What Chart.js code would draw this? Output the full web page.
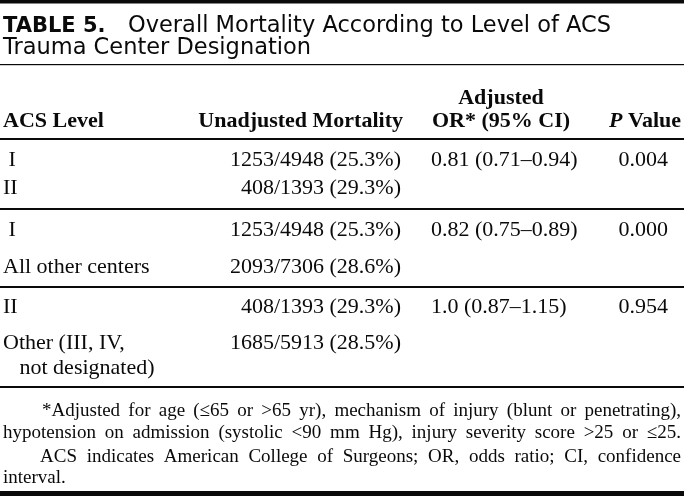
<!DOCTYPE html>
<html>
<head>
<meta charset="utf-8">
<script src="https://cdn.jsdelivr.net/npm/chart.js@4.4.1/dist/chart.umd.min.js"></script>
<style>
  html, body { margin: 0; padding: 0; background: #fff; }
  #wrap { width: 684px; height: 496px; position: relative; }
</style>
</head>
<body>
<div id="wrap"><canvas id="c" width="684" height="496"></canvas></div>
<script>
// ---- Data ----
const titleLabel = "TABLE 5.";
const titleText = ["Overall Mortality According to Level of ACS", "Trauma Center Designation"];
const headers = ["ACS Level", "Unadjusted Mortality", ["Adjusted", "OR* (95% CI)"], "P Value"];
const acsLevels = [" I", "II", " I", "All other centers", "II", ["Other (III, IV,", "   not designated)"]];
const unadjustedMortality = ["1253/4948 (25.3%)", "408/1393 (29.3%)", "1253/4948 (25.3%)", "2093/7306 (28.6%)", "408/1393 (29.3%)", "1685/5913 (28.5%)"];
const adjustedOR = ["0.81 (0.71\u20130.94)", "", "0.82 (0.75\u20130.89)", "", "1.0 (0.87\u20131.15)", ""];
const pValues = ["0.004", "", "0.000", "", "0.954", ""];
const footnotes = [
  "*Adjusted for age (\u226465 or >65 yr), mechanism of injury (blunt or penetrating),",
  "hypotension on admission (systolic <90 mm Hg), injury severity score >25 or \u226425.",
  "ACS indicates American College of Surgeons; OR, odds ratio; CI, confidence",
  "interval."
];

// ---- Layout (positions in scale units) ----
const L = {
  rowBase: [166, 194, 236, 273, 313, 349],
  rowLine2: 374,
  rules: [[0, 3.5], [64, 1.2], [138, 2], [208, 2], [286, 2], [386, 2], [491, 5]],
  titleBase: [32, 54],
  titleTextX: 128,
  hdrBase: [104, 127],
  colLeft: 3, colUnadjRight: 401, colORLeft: 431, colORCenter: 501, colPRight: 668, colPHdrRight: 681,
  footBase: [416, 438, 462, 483],
  footIndent: [42, 3, 40, 3],
  footJustify: [true, true, true, false],
  footRight: 681
};
const SERIF = '"Liberation Serif", "Times New Roman", serif';
const SANS = '"DejaVu Sans", sans-serif';

const tablePlugin = {
  id: 'tablePlugin',
  afterDraw(chart) {
    const ctx = chart.ctx;
    const xs = chart.scales.x, ys = chart.scales.y;
    const X = v => xs.getPixelForValue(v);
    const Y = v => ys.getPixelForValue(v);
    ctx.save();
    ctx.fillStyle = '#0a0a0a';
    ctx.textBaseline = 'alphabetic';
    // rules
    L.rules.forEach(([y, h]) => { ctx.fillRect(X(0), Y(y), X(684) - X(0), h); });
    // title
    ctx.textAlign = 'left';
    ctx.font = 'bold 21px ' + SANS;
    ctx.fillText(titleLabel, X(L.colLeft), Y(L.titleBase[0]));
    ctx.font = '22.5px ' + SANS;
    ctx.fillText(titleText[0], X(L.titleTextX), Y(L.titleBase[0]));
    ctx.fillText(titleText[1], X(L.colLeft), Y(L.titleBase[1]));
    // headers
    ctx.font = 'bold 22px ' + SERIF;
    ctx.textAlign = 'left';
    ctx.fillText(headers[0], X(L.colLeft), Y(L.hdrBase[1]));
    ctx.textAlign = 'right';
    ctx.fillText(headers[1], X(L.colUnadjRight + 2), Y(L.hdrBase[1]));
    ctx.textAlign = 'center';
    ctx.fillText(headers[2][0], X(L.colORCenter), Y(L.hdrBase[0]));
    ctx.fillText(headers[2][1], X(L.colORCenter), Y(L.hdrBase[1]));
    // P Value header: italic P
    ctx.textAlign = 'right';
    const rest = " Value";
    ctx.fillText(rest, X(L.colPHdrRight), Y(L.hdrBase[1]));
    const rw = ctx.measureText(rest).width;
    ctx.font = 'italic bold 22px ' + SERIF;
    ctx.fillText(headers[3].split(' ')[0], X(L.colPHdrRight) - rw, Y(L.hdrBase[1]));
    // rows
    ctx.font = '22px ' + SERIF;
    acsLevels.forEach((lab, i) => {
      const yb = Y(L.rowBase[i]);
      ctx.textAlign = 'left';
      if (Array.isArray(lab)) {
        ctx.fillText(lab[0], X(L.colLeft), yb);
        ctx.fillText(lab[1], X(L.colLeft), Y(L.rowLine2));
      } else {
        ctx.fillText(lab, X(L.colLeft), yb);
      }
      ctx.textAlign = 'right';
      ctx.fillText(unadjustedMortality[i], X(L.colUnadjRight), yb);
      ctx.textAlign = 'left';
      if (adjustedOR[i]) ctx.fillText(adjustedOR[i], X(L.colORLeft), yb);
      ctx.textAlign = 'right';
      if (pValues[i]) ctx.fillText(pValues[i], X(L.colPRight), yb);
    });
    // footnotes (justified)
    ctx.font = '19px ' + SERIF;
    ctx.textAlign = 'left';
    footnotes.forEach((t, i) => {
      const yb = Y(L.footBase[i]);
      const x0 = X(L.footIndent[i]);
      if (!L.footJustify[i]) { ctx.fillText(t, x0, yb); return; }
      const words = t.split(' ');
      const wsum = words.reduce((s, w) => s + ctx.measureText(w).width, 0);
      const gap = (X(L.footRight) - x0 - wsum) / (words.length - 1);
      let x = x0;
      words.forEach(w => { ctx.fillText(w, x, yb); x += ctx.measureText(w).width + gap; });
    });
    ctx.restore();
  }
};

new Chart(document.getElementById('c'), {
  type: 'scatter',
  data: { datasets: [{ data: [] }] },
  options: {
    responsive: false,
    animation: false,
    events: [],
    layout: { padding: 0 },
    plugins: { legend: { display: false }, tooltip: { enabled: false } },
    scales: {
      x: { type: 'linear', min: 0, max: 684, display: false },
      y: { type: 'linear', min: 0, max: 496, reverse: true, display: false }
    }
  },
  plugins: [tablePlugin]
});
</script>
</body>
</html>
